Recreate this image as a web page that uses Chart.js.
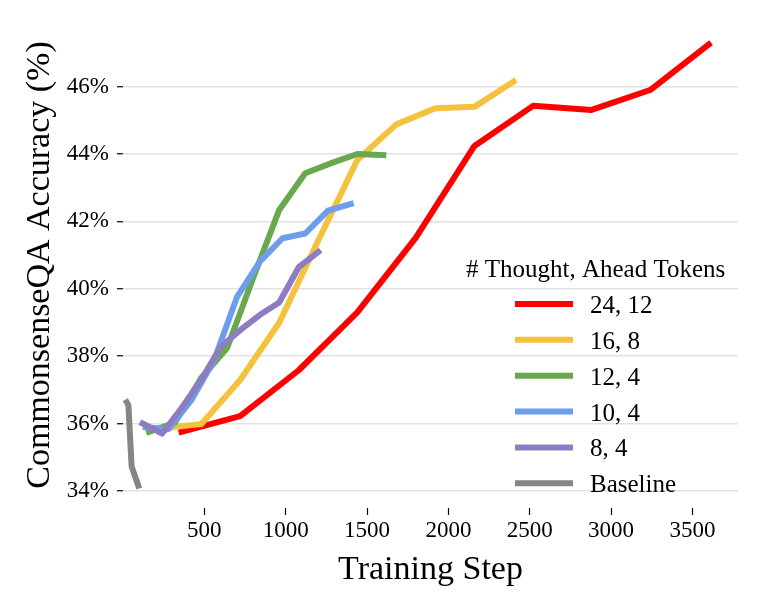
<!DOCTYPE html>
<html lang="en">
<head>
    <meta charset="UTF-8">
    <title>CommonsenseQA Accuracy vs Training Step</title>
    <script src="https://cdn.jsdelivr.net/npm/chart.js"></script>
    <style>
        html, body { margin: 0; padding: 0; background: #fff; }
        .chart-box { width: 761px; height: 609px; }
    </style>
</head>
<body>
    <div class="chart-box">
        <canvas id="accChart"></canvas>
    </div>

    <script>
        // values
        const seriesLabels = ['24, 12', '16, 8', '12, 4', '10, 4', '8, 4', 'Baseline'];

        const steps24 = [360, 720, 1080, 1440, 1800, 2160, 2520, 2880, 3240, 3600];
        const acc24 = [35.75, 36.22, 37.58, 39.30, 41.52, 44.24, 45.43, 45.31, 45.90, 47.25];

        const steps16 = [240, 480, 720, 960, 1200, 1440, 1680, 1920, 2160, 2400];
        const acc16 = [35.86, 35.98, 37.29, 38.99, 41.43, 43.82, 44.88, 45.36, 45.40, 46.15];

        const steps12 = [160, 320, 480, 640, 800, 960, 1120, 1280, 1440, 1600];
        const acc12 = [35.75, 36.03, 37.35, 38.24, 40.32, 42.34, 43.43, 43.73, 44.00, 43.97];

        const steps10 = [140, 280, 420, 560, 700, 840, 980, 1120, 1260, 1400];
        const acc10 = [35.89, 35.83, 36.69, 37.88, 39.75, 40.80, 41.50, 41.64, 42.32, 42.52];

        const steps8 = [120, 240, 360, 480, 600, 720, 840, 960, 1080, 1200];
        const acc8 = [36.00, 35.70, 36.46, 37.29, 38.27, 38.77, 39.22, 39.59, 40.64, 41.09];

        const stepsBase = [23, 33, 53, 94];
        const accBase = [36.63, 36.55, 34.72, 34.15];

        const xTicks = [500, 1000, 1500, 2000, 2500, 3000, 3500];
        const yTicks = [34, 36, 38, 40, 42, 44, 46];

        const colors = ['#ff0000', '#f4c23c', '#6aa84f', '#6d9eeb', '#8e7cc3', '#858585'];

        const serif = "'Liberation Serif', 'Times New Roman', serif";

        function toPoints(xs, ys) {
            return xs.map((x, i) => ({ x: x, y: ys[i] }));
        }

        const allSeries = [
            [steps24, acc24], [steps16, acc16], [steps12, acc12],
            [steps10, acc10], [steps8, acc8], [stepsBase, accBase]
        ];

        const datasets = allSeries.map((s, i) => ({
            label: seriesLabels[i],
            data: toPoints(s[0], s[1]),
            borderColor: colors[i],
            backgroundColor: colors[i],
            borderWidth: 6,
            borderCapStyle: 'square',
            borderJoinStyle: 'round',
            pointRadius: 0,
            tension: 0,
            fill: false,
            order: allSeries.length - i   // later series on top, like matplotlib
        }));

        // legend sits inside the plot, drawn by hand
        const insideLegend = {
            id: 'insideLegend',
            afterDraw(chart) {
                const ctx = chart.ctx;
                ctx.save();
                ctx.fillStyle = '#000';
                ctx.font = "25px " + serif;
                ctx.textAlign = 'left';
                ctx.textBaseline = 'alphabetic';
                ctx.fillText('# Thought, Ahead Tokens', 466, 277);
                chart.data.datasets.forEach((ds, i) => {
                    const cy = 304 + i * 35.85;
                    ctx.strokeStyle = ds.borderColor;
                    ctx.lineWidth = 6;
                    ctx.lineCap = 'butt';
                    ctx.beginPath();
                    ctx.moveTo(515, cy);
                    ctx.lineTo(573, cy);
                    ctx.stroke();
                    ctx.fillStyle = '#000';
                    ctx.fillText(ds.label, 590, cy + 9);
                });
                ctx.restore();
            }
        };

        new Chart(document.getElementById('accChart'), {
            type: 'line',
            data: { datasets: datasets },
            options: {
                responsive: true,
                maintainAspectRatio: false,
                animation: false,
                layout: { padding: { left: 14, right: 23, top: 22, bottom: 0 } },
                plugins: {
                    legend: { display: false },
                    tooltip: { enabled: false }
                },
                scales: {
                    x: {
                        type: 'linear',
                        min: 0,
                        max: 3780,
                        afterFit: (scale) => { scale.height = 101; },
                        afterBuildTicks: (scale) => { scale.ticks = xTicks.map(v => ({ value: v })); },
                        border: { display: false },
                        grid: {
                            drawOnChartArea: false,
                            drawTicks: true,
                            tickLength: 7,
                            tickColor: '#000',
                            tickWidth: 1.2
                        },
                        ticks: {
                            color: '#000',
                            padding: 2,
                            maxRotation: 0,
                            autoSkip: false,
                            font: { family: serif, size: 23 },
                            callback: (v) => String(v)
                        },
                        title: {
                            display: true,
                            text: 'Training Step',
                            color: '#000',
                            padding: { top: 0, bottom: 19 },
                            font: { family: serif, size: 34 }
                        }
                    },
                    y: {
                        type: 'linear',
                        min: 33.49,
                        max: 47.92,
                        afterFit: (scale) => { scale.width = 109; },
                        afterBuildTicks: (scale) => { scale.ticks = yTicks.map(v => ({ value: v })); },
                        border: { display: false },
                        grid: {
                            color: '#e2e2e2',
                            lineWidth: 1.5,
                            drawTicks: true,
                            tickLength: 6,
                            tickColor: '#000',
                            tickWidth: 1.2
                        },
                        ticks: {
                            color: '#000',
                            padding: 8,
                            autoSkip: false,
                            font: { family: serif, size: 23 },
                            callback: (v) => v + '%'
                        },
                        title: {
                            display: true,
                            text: 'CommonsenseQA Accuracy (%)',
                            color: '#000',
                            padding: { top: 6, bottom: 0 },
                            font: { family: serif, size: 34 }
                        }
                    }
                }
            },
            plugins: [insideLegend]
        });
    </script>
</body>
</html>
